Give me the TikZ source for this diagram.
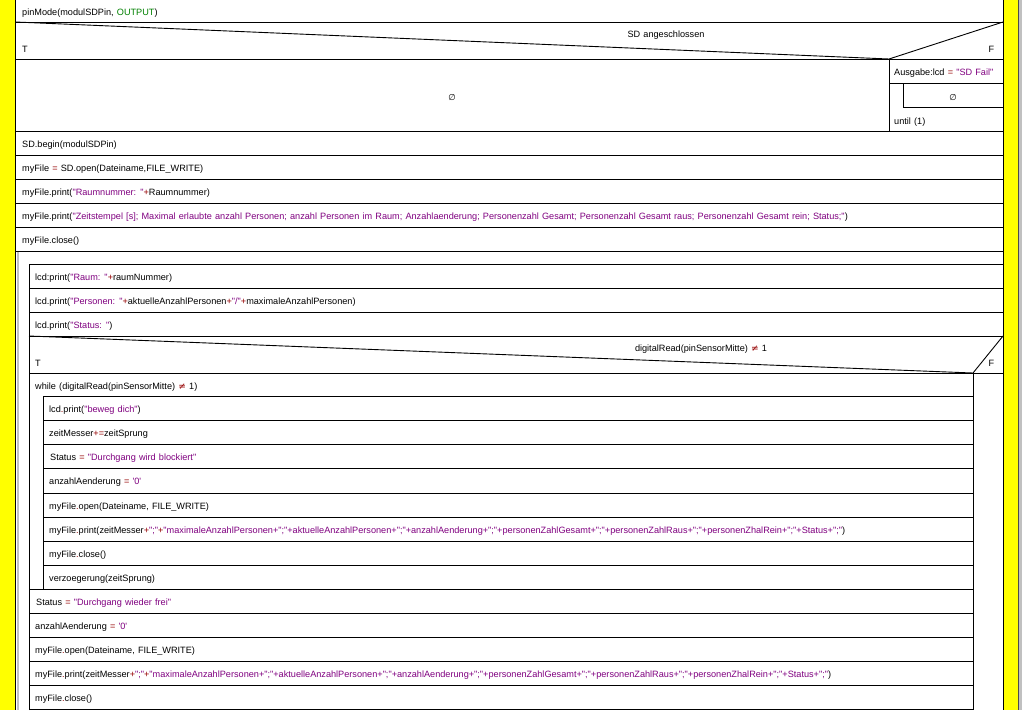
\documentclass[tikz,border=0pt]{standalone}
\usepackage{fontspec}
\setmainfont{Liberation Sans}[Ligatures=TeXOff, WordSpace=1.25]
\newfontfamily\symfont{DejaVu Sans}
\definecolor{strc}{RGB}{128,0,128}
\definecolor{opc}{RGB}{150,0,0}
\definecolor{kwc}{RGB}{0,128,0}
\definecolor{barfill}{rgb}{1,1,0}
\definecolor{gbar}{RGB}{192,192,192}
\newcommand\strg[1]{\textcolor{strc}{#1}}
\newcommand\opr[1]{\textcolor{opc}{#1}}
\newcommand\neqs{{\symfont\textcolor{opc}{≠}}}
\newcommand\emptys{{\symfont\fontsize{8.5}{9}\selectfont ∅}}
\tikzset{
  txt/.style={anchor=west, inner sep=0pt, text height=6.6pt, text depth=1.9pt, yshift=-2pt, font=\fontsize{9.15}{10}\selectfont},
  ctxt/.style={txt, anchor=center},
  ln/.style={line width=1pt, black},
}
\begin{document}
\begin{tikzpicture}[x=1pt,y=-1pt]
\useasboundingbox (0,0) rectangle (1022,710);
\fill[white] (0,0) rectangle (1022,710);
% side bars
\fill[fill=barfill] (0,0) rectangle (15.5,710);
\fill[fill=barfill] (1003.5,0) rectangle (1018.5,710);
\fill[fill=gbar] (1019,0) rectangle (1022,710);
\draw[line width=0.8pt, black!70] (1018.8,0) -- (1018.8,710);
\draw[ln] (15.5,0) -- (15.5,710);
\draw[ln] (1003,0) -- (1003,710);

% top rows
\foreach \yy in {22,59,131,155,179,203,227,251} \draw[ln] (15.5,\yy) -- (1003,\yy);
% first decision
\draw[line width=0.9pt] (15.5,22) -- (889,59) -- (1003,22);
\draw[ln] (889,59) -- (889,131);
\draw[ln] (889,83) -- (1003,83);
\draw[ln] (903,83) -- (903,107) -- (1003,107);

% endless loop block
\draw[line width=2pt, gbar] (18,252) -- (18,710);
\draw[ln] (29,710) -- (29,264) -- (1003,264);
\foreach \yy in {288,312,336,373} \draw[ln] (29,\yy) -- (1003,\yy);
\draw[line width=0.9pt] (29,336) -- (973,373) -- (1003,336);
\draw[ln] (973,373) -- (973,710);
% while block
\draw[ln] (43,396) -- (43,589);
\foreach \yy in {396,420,444,468,493,517,541,565} \draw[ln] (43,\yy) -- (973,\yy);
\foreach \yy in {589,613,637,661,685,709} \draw[ln] (29,\yy) -- (973,\yy);

% texts
\node[txt] (t1) at (22,11) {pinMode(modulSDPin, \textcolor{kwc}{OUTPUT})};
\node[ctxt] (c1) at (666,33) {SD angeschlossen};
\node[txt] (c1t) at (22,48) {T};
\node[ctxt] (c1f) at (991.5,48) {F};
\node[ctxt] (e1) at (452,96) {\emptys};
\node[txt] (f1) at (894,71) {Ausgabe:lcd \opr{=} \strg{"SD Fail"}};
\node[ctxt] (e2) at (953,96) {\emptys};
\node[txt] (u1) at (894,120) {until (1)};
\node[txt] (t2) at (22,143) {SD.begin(modulSDPin)};
\node[txt] (t3) at (22,167) {myFile \opr{=} SD.open(Dateiname,FILE\_WRITE)};
\node[txt] (t4) at (22,191) {myFile.print(\strg{"Raumnummer: "}\opr{+}Raumnummer)};
\node[txt] (t5) at (22,215) {myFile.print(\strg{"Zeitstempel [s]; Maximal erlaubte anzahl Personen; anzahl Personen im Raum; Anzahlaenderung; Personenzahl Gesamt; Personenzahl Gesamt raus; Personenzahl Gesamt rein; Status;"})};
\node[txt] (t6) at (22,239) {myFile.close()};

\node[txt] (l1) at (35,276) {lcd:print(\strg{"Raum: "}\opr{+}raumNummer)};
\node[txt] (l2) at (35,300) {lcd.print(\strg{"Personen: "}\opr{+}aktuelleAnzahlPersonen\opr{+}\strg{"/"}\opr{+}maximaleAnzahlPersonen)};
\node[txt] (l3) at (35,324) {lcd.print(\strg{"Status: "})};
\node[ctxt] (c2) at (701,347) {digitalRead(pinSensorMitte) \neqs{} 1};
\node[txt] (c2t) at (35,362) {T};
\node[ctxt] (c2f) at (991.5,362) {F};
\node[txt] (w1) at (35,385) {while (digitalRead(pinSensorMitte) \neqs{} 1)};

\node[txt] (w2) at (49,408) {lcd\opr{.}print(\strg{"beweg dich"})};
\node[txt] (w3) at (49,432) {zeitMesser\opr{+=}zeitSprung};
\node[txt] (w4) at (50,456) {Status \opr{=} \strg{"Durchgang wird blockiert"}};
\node[txt] (w5) at (49,480.5) {anzahlAenderung \opr{=} \strg{'0'}};
\node[txt] (w6) at (49,505) {myFile\opr{.}open(Dateiname, FILE\_WRITE)};
\node[txt] (w7) at (49,529) {myFile\opr{.}print(zeitMesser\opr{+}\strg{";"}\opr{+}\strg{"maximaleAnzahlPersonen+";"+aktuelleAnzahlPersonen+";"+anzahlAenderung+";"+personenZahlGesamt+";"+personenZahlRaus+";"+personenZhalRein+";"+Status+";"})};
\node[txt] (w8) at (49,553) {myFile\opr{.}close()};
\node[txt] (w9) at (49,577) {verzoegerung(zeitSprung)};

\node[txt] (a1) at (36,601) {Status \opr{=} \strg{"Durchgang wieder frei"}};
\node[txt] (a2) at (35,625) {anzahlAenderung \opr{=} \strg{'0'}};
\node[txt] (a3) at (35,649) {myFile\opr{.}open(Dateiname, FILE\_WRITE)};
\node[txt] (a4) at (35,673) {myFile\opr{.}print(zeitMesser\opr{+}\strg{";"}\opr{+}\strg{"maximaleAnzahlPersonen+";"+aktuelleAnzahlPersonen+";"+anzahlAenderung+";"+personenZahlGesamt+";"+personenZahlRaus+";"+personenZhalRein+";"+Status+";"})};
\node[txt] (a5) at (35,697) {myFile\opr{.}close()};
\end{tikzpicture}
\end{document}
